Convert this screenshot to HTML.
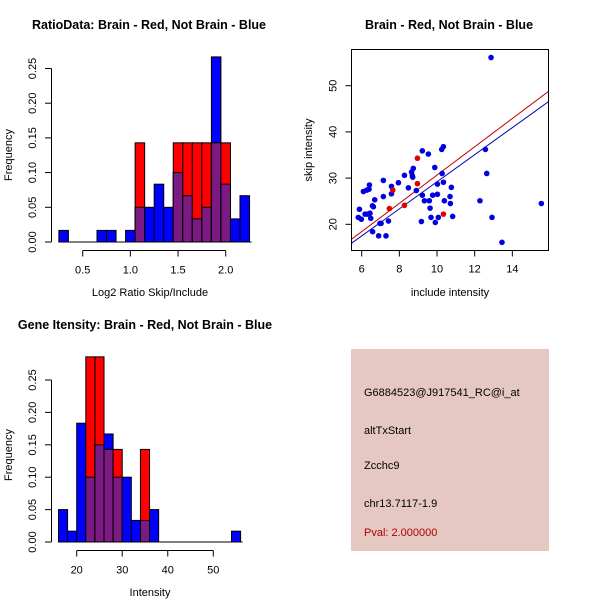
<!DOCTYPE html>
<html><head><meta charset="utf-8"><style>
body{margin:0;background:#fff}
svg{display:block;font-family:"Liberation Sans",sans-serif}
</style></head><body>
<svg id="c" width="600" height="600">
<rect x="0" y="0" width="600" height="600" fill="#fff"/>
</svg>
<script>
// Ratio histogram data
const ratioBins = [0.25,0.35,0.45,0.55,0.65,0.75,0.85,0.95,1.05,1.15,1.25,1.35,1.45,1.55,1.65,1.75,1.85,1.95,2.05,2.15];
const ratioBlue = [0.0167,0,0,0,0.0167,0.0167,0,0.0167,0.05,0.05,0.0833,0.05,0.1,0.0667,0.0333,0.05,0.2667,0.0833,0.0333,0.0667];
const ratioRed  = [0,0,0,0,0,0,0,0,0.1429,0,0,0,0.1429,0.1429,0.1429,0.1429,0.1429,0.1429,0,0];
const ratioXTicks = [0.5,1.0,1.5,2.0];
const ratioXLabels = ["0.5","1.0","1.5","2.0"];
const freqTicks = [0,0.05,0.10,0.15,0.20,0.25];
const freqLabels = ["0.00","0.05","0.10","0.15","0.20","0.25"];
// Intensity histogram data
const intBins = [16,18,20,22,24,26,28,30,32,34,36,38,40,42,44,46,48,50,52,54];
const intBlue = [0.05,0.0167,0.1833,0.1,0.15,0.1667,0.1,0.1,0.0333,0.0333,0.05,0,0,0,0,0,0,0,0,0.0167];
const intRed  = [0,0,0,0.2857,0.2857,0.1429,0.1429,0,0,0.1429,0,0,0,0,0,0,0,0,0,0];
const intXTicks = [20,30,40,50];
// Scatter data
const blueX = [5.88,5.82,5.98,6.09,6.27,6.39,6.18,6.30,6.41,6.44,6.48,6.57,6.62,6.69,6.58,6.90,6.97,7.03,7.15,7.15,7.29,7.42,7.58,7.58,7.95,8.27,8.48,8.65,8.69,8.71,8.74,8.90,9.17,9.22,9.22,9.33,9.54,9.59,9.63,9.68,9.77,9.88,9.91,10.02,10.02,10.07,10.25,10.27,10.34,10.34,10.39,10.69,10.71,10.76,10.83,12.28,12.57,12.64,12.87,12.92,13.45,15.54];
const blueY = [23.25,21.5,21.1,27.1,27.4,27.6,22.2,22.2,28.5,22.4,21.3,24.0,23.8,25.3,18.4,17.5,20.2,20.2,29.5,26.0,17.5,20.7,28.2,26.6,29.0,30.6,27.9,31.3,30.5,30.2,32.1,27.3,20.6,35.9,26.3,25.1,35.2,25.1,23.5,21.5,26.3,32.3,20.4,28.7,26.5,21.5,36.2,31.0,36.8,29.1,25.1,26.0,24.5,28.0,21.7,25.1,36.2,31.0,56.1,21.5,16.1,24.5];
const redX = [7.47,7.65,8.27,8.96,8.96,10.34];
const redY = [23.4,27.4,24.1,34.3,28.8,22.2];
const redFit = [0.06,3.06];   // intercept, slope
const blueFit = [-0.1,2.93];
const scXTicks = [6,8,10,12,14];
const scYTicks = [20,30,40,50];

const NS="http://www.w3.org/2000/svg";
const svg=document.getElementById('c');
function el(tag,attrs,parent){const e=document.createElementNS(NS,tag);for(const k in attrs)e.setAttribute(k,attrs[k]);(parent||svg).appendChild(e);return e;}
function txt(s,attrs){const t=el('text',attrs);t.textContent=s;return t;}
const PURPLE="#7a1a82";

function hist(cfg){
  const g=el('g',{});
  
  
  const X=v=>cfg.x0+(v-cfg.xv0)*cfg.xs, Y=v=>cfg.y0-v*cfg.ys;
  cfg.bins.forEach((b,i)=>{
    const x1=X(b),x2=X(b+cfg.bw);
    const bl=cfg.blue[i],rd=cfg.red[i];
    if(bl>0){const r=el('rect',{x:x1,y:Y(bl),width:x2-x1,height:Y(0)-Y(bl),fill:'#0000ff',stroke:'#000','stroke-width':1},g);
      }
    if(rd>0){const r=el('rect',{x:x1,y:Y(rd),width:x2-x1,height:Y(0)-Y(rd),fill:'#ff0000',stroke:'#000','stroke-width':1},g);
      }
    const m=Math.min(bl,rd);
    if(m>0){const r=el('rect',{x:x1,y:Y(m),width:x2-x1,height:Y(0)-Y(m),fill:PURPLE,stroke:'#000','stroke-width':1},g);
      }
  });
  el('line',{x1:X(cfg.bins[0]),x2:X(cfg.bins[cfg.bins.length-1]+cfg.bw)+2,y1:Y(0),y2:Y(0),stroke:'#000'},g);
  el('line',{x1:51.5,x2:51.5,y1:Y(0.25),y2:Y(0),stroke:'#000'},g);
  freqTicks.forEach((v,i)=>{
    el('line',{x1:45,x2:51.5,y1:Y(v),y2:Y(v),stroke:'#000'},g);
    const t=txt(freqLabels[i],{x:0,y:0,'font-size':11,'text-anchor':'middle',transform:`translate(36,${Y(v)}) rotate(-90)`});
    
  });
  const ay=cfg.y0+8.5;
  el('line',{x1:X(cfg.xt[0]),x2:X(cfg.xt[cfg.xt.length-1]),y1:ay,y2:ay,stroke:'#000'},g);
  cfg.xt.forEach((v,i)=>{
    el('line',{x1:X(v),x2:X(v),y1:ay,y2:ay+6,stroke:'#000'},g);
    const t=txt(cfg.xl[i],{x:X(v),y:ay+23,'font-size':11,'text-anchor':'middle'});
    
  });
  let t=txt(cfg.xtitle,{x:cfg.xtx,y:cfg.y0+54,'font-size':11,'text-anchor':'middle'});
  
  t=txt('Frequency',{x:0,y:0,'font-size':11,'text-anchor':'middle',transform:`translate(12,${cfg.y0-87}) rotate(-90)`});
  
  t=txt(cfg.title,{x:cfg.tx,y:cfg.ty,'font-size':12.5,'font-weight':'bold','text-anchor':'middle'});
  
}
hist({name:'ratio-histogram',bins:ratioBins,blue:ratioBlue,red:ratioRed,bw:0.1,x0:82.7,xv0:0.5,xs:95.33,y0:242,ys:694,
  xt:ratioXTicks,xl:ratioXLabels,xtitle:'Log2 Ratio Skip/Include',xtx:150,title:'RatioData: Brain - Red, Not Brain - Blue',tx:149,ty:29});
hist({name:'intensity-histogram',bins:intBins,blue:intBlue,red:intRed,bw:2,x0:76.7,xv0:20,xs:4.553,y0:542,ys:648,
  xt:intXTicks,xl:intXTicks.map(String),xtitle:'Intensity',xtx:150,title:'Gene Itensity: Brain - Red, Not Brain - Blue',tx:145,ty:329});

(function(){
  const g=el('g',{});
  
  
  const X=v=>361.7+(v-6)*18.83, Y=v=>224.3-(v-20)*4.62;
  const L=351.5,R=548.5,T=49.5,B=250.5;
  const cp=el('clipPath',{id:'sc'},g);el('rect',{x:L,y:T,width:R-L,height:B-T},cp);
  const xa=5.47,xb=15.91;
  [[redFit,'#c00000'],[blueFit,'#0000b0']].forEach(([f,c])=>{
    const l=el('line',{x1:X(xa),x2:X(xb),y1:Y(f[0]+f[1]*xa),y2:Y(f[0]+f[1]*xb),stroke:c,'clip-path':'url(#sc)'},g);
    
  });
  blueX.forEach((x,i)=>{const c=el('circle',{cx:X(x),cy:Y(blueY[i]),r:2.8,fill:'#0000e0'},g);
    });
  redX.forEach((x,i)=>{const c=el('circle',{cx:X(x),cy:Y(redY[i]),r:2.8,fill:'#e00000'},g);
    });
  el('rect',{x:L,y:T,width:R-L,height:B-T,fill:'none',stroke:'#000'},g);
  scXTicks.forEach(v=>{el('line',{x1:X(v),x2:X(v),y1:B,y2:B+6,stroke:'#000'},g);
    const t=txt(String(v),{x:X(v),y:B+22,'font-size':11,'text-anchor':'middle'});
    });
  scYTicks.forEach(v=>{el('line',{x1:L-6,x2:L,y1:Y(v),y2:Y(v),stroke:'#000'},g);
    const t=txt(String(v),{x:0,y:0,'font-size':11,'text-anchor':'middle',transform:`translate(${L-15},${Y(v)}) rotate(-90)`});
    });
  let t=txt('include intensity',{x:450,y:296,'font-size':11,'text-anchor':'middle'});
  
  t=txt('skip intensity',{x:0,y:0,'font-size':11,'text-anchor':'middle',transform:'translate(312,150) rotate(-90)'});
  
  t=txt('Brain - Red, Not Brain - Blue',{x:449,y:29,'font-size':12.5,'font-weight':'bold','text-anchor':'middle'});
  
})();

(function(){
  const g=el('g',{});
  
  
  el('rect',{x:351,y:349,width:198,height:202,fill:'#e5c8c2'},g);
  const lines=[['G6884523@J917541_RC@i_at',396,'#000','probe-id'],['altTxStart',434,'#000','event-type'],['Zcchc9',469,'#000','gene-name'],['chr13.7117-1.9',507,'#000','location'],['Pval: 2.000000',536,'#b00000','p-value']];
  lines.forEach(([s,y,c,n])=>{const t=txt(s,{x:364,y:y,'font-size':11,fill:c},g);
    });
})();
</script>
</body></html>
